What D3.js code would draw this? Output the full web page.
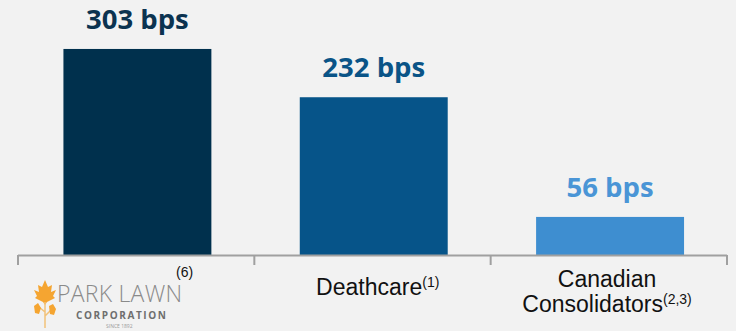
<!DOCTYPE html>
<html><head><meta charset="utf-8">
<script src="https://cdn.jsdelivr.net/npm/d3@7"></script>
<style>html,body{margin:0;padding:0;background:#f2f2f2;}svg{display:block;}</style>
</head><body>
<svg id="c" width="736" height="331"></svg>
<script>
const categories = ["Park Lawn", "Deathcare", "Canadian Consolidators"];
const values = [303, 232, 56];
const valueLabels = ["303 bps", "232 bps", "56 bps"];
const barColors = ["#00304d", "#065489", "#3e8ed0"];
const labelColors = ["#0b3350", "#0a5487", "#4a95d6"];

const svg = d3.select("#c");
const r0 = 18, r1 = 727;
const x = d3.scaleBand().domain(categories).range([r0, r1]).paddingInner(0.374).paddingOuter(0.187).align(0.514);
const y = d3.scaleLinear().domain([0, 375]).range([255, 0]);

svg.selectAll("rect.bar").data(values).join("rect")
  .attr("class","bar")
  .attr("x",(d,i)=>x(categories[i]))
  .attr("y",d=>y(d))
  .attr("width",x.bandwidth())
  .attr("height",d=>y(0)-y(d))
  .attr("fill",(d,i)=>barColors[i]);

svg.selectAll("text.val").data(values).join("text")
  .attr("class","val")
  .attr("x",(d,i)=>x(categories[i])+x.bandwidth()/2)
  .attr("y",d=>y(d)-20)
  .attr("text-anchor","middle")
  .attr("font-family","'Open Sans', sans-serif")
  .attr("font-weight",700)
  .attr("font-size",27.5)
  .attr("fill",(d,i)=>labelColors[i])
  .text((d,i)=>valueLabels[i]);

// axis
const edges = d3.range(categories.length+1).map(i=>r0 + i*(r1-r0)/categories.length);
svg.append("line").attr("x1",r0).attr("x2",r1).attr("y1",255.5).attr("y2",255.5)
  .attr("stroke","#a0a0a0").attr("stroke-width",2);
svg.selectAll("line.tick").data(edges).join("line").attr("class","tick")
  .attr("x1",d=>d).attr("x2",d=>d).attr("y1",255).attr("y2",265)
  .attr("stroke","#a0a0a0").attr("stroke-width",2);

const ff = "'Liberation Sans', Arial, sans-serif";
// Deathcare
const cx1 = x(categories[1])+x.bandwidth()/2;
const t1 = svg.append("text").attr("x",cx1+4).attr("y",295).attr("text-anchor","middle")
  .attr("font-family",ff).attr("font-size",23).attr("fill","#111");
t1.append("tspan").text("Deathcare");
t1.append("tspan").attr("font-size",14).attr("dy",-8).text("(1)");
// Canadian Consolidators
const cx2 = x(categories[2])+x.bandwidth()/2;
svg.append("text").attr("x",cx2-3).attr("y",287).attr("text-anchor","middle")
  .attr("font-family",ff).attr("font-size",23).attr("fill","#111").text("Canadian");
const t2 = svg.append("text").attr("x",cx2-3).attr("y",312).attr("text-anchor","middle")
  .attr("font-family",ff).attr("font-size",23).attr("fill","#111");
t2.append("tspan").text("Consolidators");
t2.append("tspan").attr("font-size",14).attr("dy",-8).text("(2,3)");

// Park Lawn logo
const g = svg.append("g");
g.append("path").attr("fill","#f5a531")
  .attr("d","M45,280 L48,287 L52,285 L51,292 L56,290 L53,296 L55,298 L47,302 L45,305 L43,302 L35,298 L37,296 L34,290 L39,292 L38,285 L42,287 Z");
g.append("path").attr("stroke","#f2c27a").attr("stroke-width",1.5).attr("fill","none")
  .attr("d","M45,302 L45,328 M45,312 L39,307 M45,316 L51,310");
g.append("path").attr("fill","#f5a531").attr("d","M34,306 L38,303 L41,308 L39,314 L35,313 Z");
g.append("path").attr("fill","#f5a531").attr("d","M49,306 L53,304 L56,309 L54,315 L50,314 Z");
g.append("text").attr("x",57).attr("y",302).attr("font-family","'Open Sans', sans-serif")
  .attr("font-weight",300).attr("font-size",23).attr("fill","#8a8a8a").attr("textLength",125).text("PARK LAWN");
g.append("text").attr("x",76).attr("y",319).attr("font-family","'Open Sans', sans-serif")
  .attr("font-weight",700).attr("font-size",10).attr("fill","#6e6e6e").attr("textLength",90).text("CORPORATION");
g.append("text").attr("x",106).attr("y",328).attr("font-family","'Open Sans', sans-serif")
  .attr("font-size",5).attr("fill","#999").text("SINCE 1892");
g.append("text").attr("x",176).attr("y",277).attr("font-family",ff)
  .attr("font-size",14).attr("fill","#111").text("(6)");
</script>
</body></html>
